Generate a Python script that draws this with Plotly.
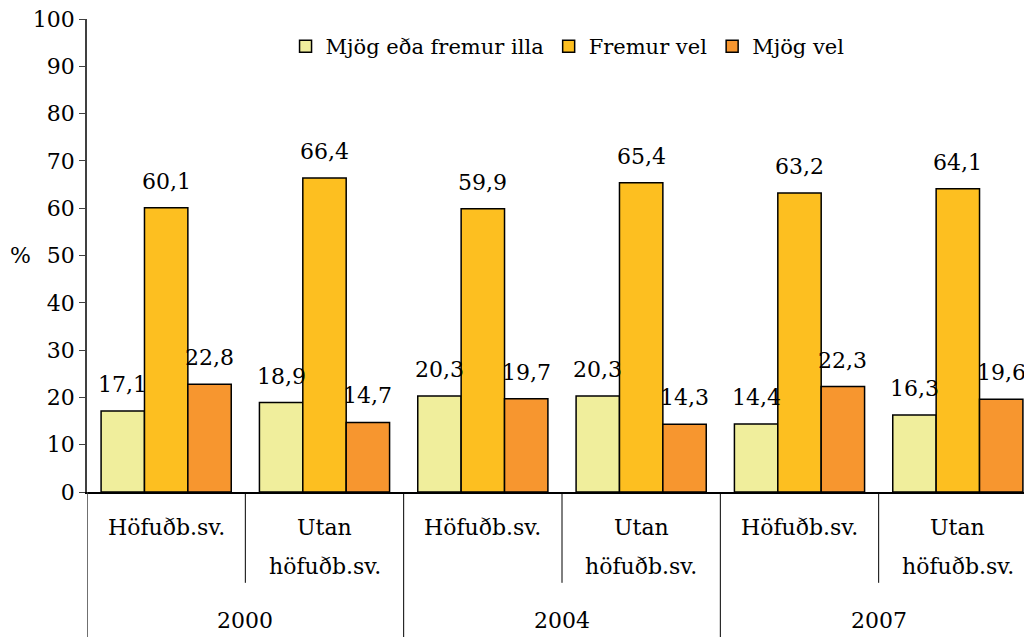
import plotly.graph_objects as go

years = ["2000", "2004", "2007"]
region_line1 = ["Höfuðb.sv.", "Utan"]
region_line2 = ["", "höfuðb.sv."]
series_names = ["Mjög eða fremur illa", "Fremur vel", "Mjög vel"]
illa = [17.1, 18.9, 20.3, 20.3, 14.4, 16.3]
fremur_vel = [60.1, 66.4, 59.9, 65.4, 63.2, 64.1]
mjog_vel = [22.8, 14.7, 19.7, 14.3, 22.3, 19.6]
y_ticks = [0, 10, 20, 30, 40, 50, 60, 70, 80, 90, 100]

colors = ["#F0EE9C", "#FDBF20", "#F7962F"]
FONT = "DejaVu Serif"
FS = 22
BARGAP = 0.178

xs = list(range(6))
fig = go.Figure()
for name, vals, col in zip(series_names, [illa, fremur_vel, mjog_vel], colors):
    fig.add_trace(go.Bar(x=xs, y=vals, name=name,
                         marker=dict(color=col, line=dict(color="black", width=1.5))))

# data labels
offsets = [-1, 0, 1]
bw = (1 - BARGAP) / 3
for off, vals in zip(offsets, [illa, fremur_vel, mjog_vel]):
    for xi, v in zip(xs, vals):
        fig.add_annotation(x=xi + off * bw, y=v, text=f"{v:.1f}".replace(".", ","),
                           showarrow=False, yanchor="bottom", yshift=12,
                           font=dict(family=FONT, size=FS, color="black"))

# category labels (two lines, wide line spacing)
for i, xi in enumerate(xs):
    fig.add_annotation(x=xi, y=-0.076, yref="paper", text=region_line1[i % 2], showarrow=False,
                       yanchor="middle", font=dict(family=FONT, size=FS, color="black"))
    if region_line2[i % 2]:
        fig.add_annotation(x=xi, y=-0.157, yref="paper", text=region_line2[i % 2], showarrow=False,
                           yanchor="middle", font=dict(family=FONT, size=FS, color="black"))
for j, yr in enumerate(years):
    fig.add_annotation(x=2 * j + 0.5, y=-0.271, yref="paper", text=yr, showarrow=False,
                       yanchor="middle", font=dict(family=FONT, size=FS, color="black"))

# separators
for k in range(1, 6):
    xb = k - 0.5
    ybot = -0.35 if k % 2 == 0 else -0.192
    fig.add_shape(type="line", x0=xb, x1=xb, y0=0, y1=ybot, xref="x", yref="paper",
                  line=dict(color="black", width=1))
fig.add_shape(type="line", x0=-0.5, x1=-0.5, y0=0, y1=-0.35, xref="x", yref="paper",
              line=dict(color="#404040", width=1.5))

fig.add_annotation(x=-0.0705, xref="paper", y=50, text="%", showarrow=False,
                   xanchor="center", font=dict(family=FONT, size=FS, color="black"))

fig.update_layout(
    width=1032, height=629,
    margin=dict(l=79, r=3, t=11, b=145, autoexpand=False),
    plot_bgcolor="white", paper_bgcolor="white",
    barmode="group", bargap=BARGAP, bargroupgap=0,
    font=dict(family=FONT, size=FS, color="black"),
    showlegend=True,
    legend=dict(orientation="h", x=0.209, xanchor="left", y=0.985, yanchor="top",
                font=dict(family=FONT, size=21), bgcolor="rgba(0,0,0,0)"),
    xaxis=dict(range=[-0.5, 5.5], showticklabels=False, ticks="", showgrid=False,
               zeroline=False, showline=True, linecolor="black", linewidth=1.5),
    yaxis=dict(range=[0, 100], tickvals=y_ticks, ticks="outside", ticklen=6, tickcolor="#404040",
               showgrid=False, zeroline=False, showline=True, linecolor="#404040", linewidth=1.5,
               tickfont=dict(family=FONT, size=FS), automargin=False,
               ticklabeloverflow="allow"),
)
fig.write_html("out.html")
